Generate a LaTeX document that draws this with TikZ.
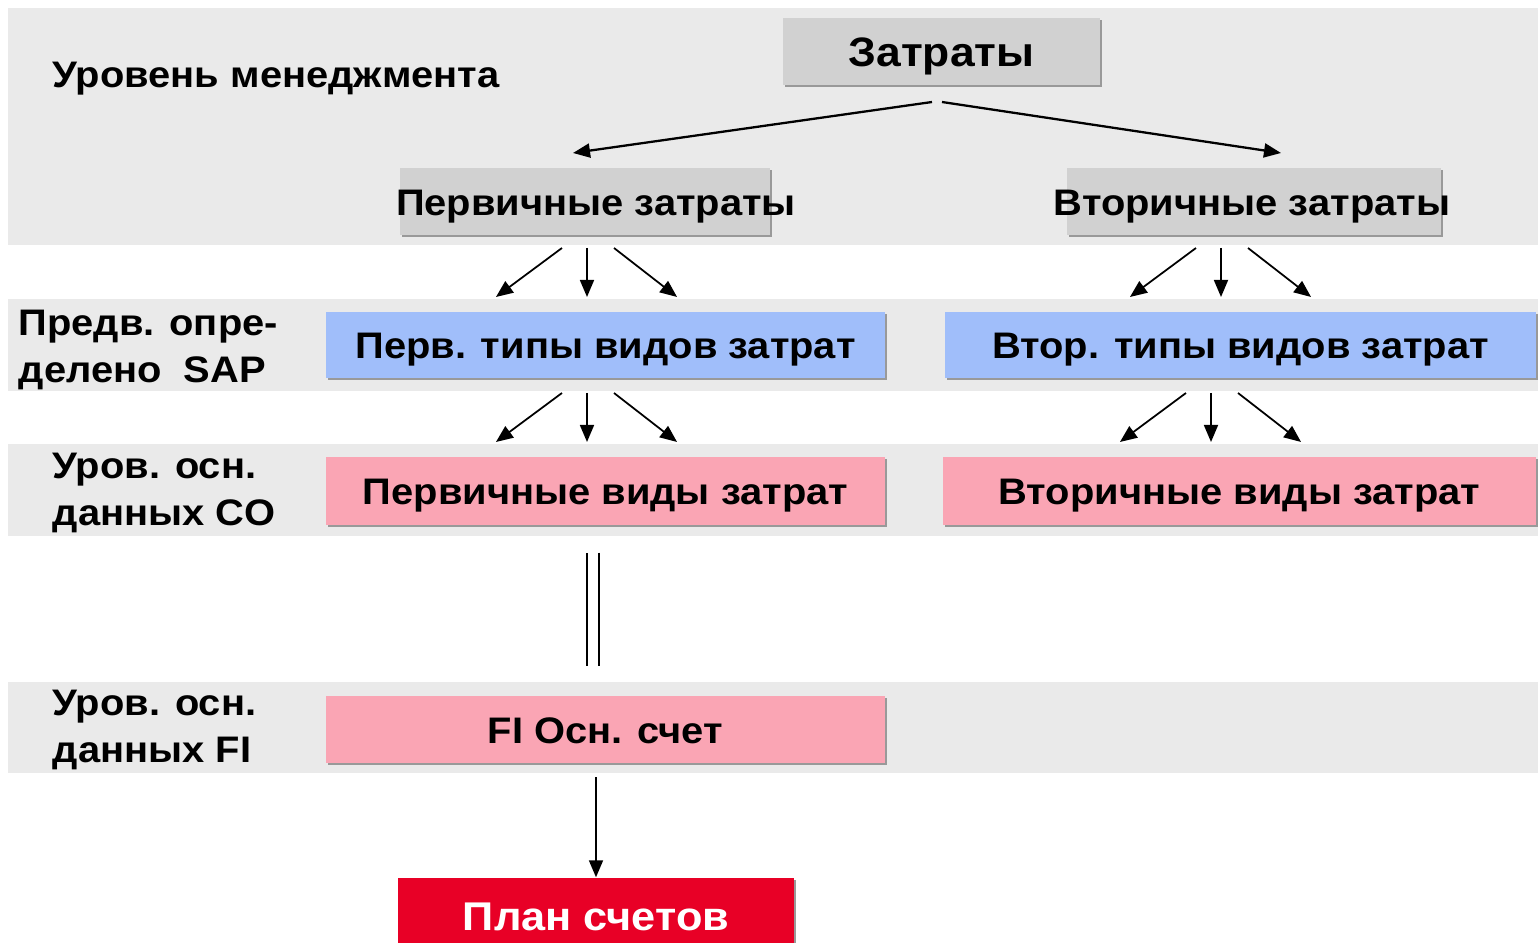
\documentclass[tikz,border=0pt]{standalone}
\usepackage{fontspec}
\setmainfont{Liberation Sans}[FakeStretch=1.08]
\usetikzlibrary{arrows.meta,shadows}
\definecolor{levelgray}{RGB}{234,234,234}
\definecolor{costgray}{RGB}{209,209,209}
\definecolor{costblue}{RGB}{160,190,250}
\definecolor{costpink}{RGB}{250,165,180}
\definecolor{costred}{RGB}{232,0,38}

\begin{document}
\begin{tikzpicture}[x=0.01cm, y=-0.01cm, >={Triangle[length=0.17cm,width=0.14cm]},
  every node/.style={font=\fontsize{10.5}{13.1}\selectfont\bfseries},
  costbox/.style={inner sep=0pt, text height=0.27cm, text depth=0pt,
    drop shadow={shadow xshift=0.02cm, shadow yshift=-0.02cm, fill=black!40, opacity=1}},
  levelname/.style={anchor=west, align=left, inner sep=0pt},
  arr/.style={->, line width=0.5pt}]
 \useasboundingbox (0,0) rectangle (1538,943);
 \fill[white] (0,0) rectangle (1538,943);
 % level bands
 \fill[levelgray] (8,8) rectangle (1538,245);
 \fill[levelgray] (8,299) rectangle (1538,391);
 \fill[levelgray] (8,444) rectangle (1538,536);
 \fill[levelgray] (8,682) rectangle (1538,773);
 % level names
 \node[levelname] (lvlman) at (52,79) {Уровень менеджмента};
 \node[levelname] (lvlsap) at (18,350) {Предв. опре-\\делено\ \ SAP};
 \node[levelname] (lvlco) at (52,493) {Уров. осн.\\данных CO};
 \node[levelname] (lvlfi) at (52,730) {Уров. осн.\\данных FI};
 % cost boxes
 \node[costbox, fill=costgray, minimum width=3.17cm, minimum height=0.67cm, text height=0.30cm,
   font=\fontsize{11.7}{14}\selectfont\bfseries] (zatr) at (941.5,51.5) {Затраты};
 \node[costbox, fill=costgray, minimum width=3.70cm, minimum height=0.67cm,
   label={[xshift=0.11cm, text height=0.27cm, text depth=0pt]center:Первичные затраты}] (prim) at (585,201.5) {};
 \node[costbox, fill=costgray, minimum width=3.74cm, minimum height=0.67cm,
   label={[xshift=-0.02cm, text height=0.27cm, text depth=0pt]center:Вторичные затраты}] (vtor) at (1254,201.5) {};
 \node[costbox, fill=costblue, minimum width=5.59cm, minimum height=0.66cm] (ptip) at (605.5,345) {Перв. типы видов затрат};
 \node[costbox, fill=costblue, minimum width=5.91cm, minimum height=0.66cm] (vtip) at (1240.5,345) {Втор. типы видов затрат};
 \node[costbox, fill=costpink, minimum width=5.59cm, minimum height=0.68cm] (pvid) at (605.5,491) {Первичные виды затрат};
 \node[costbox, fill=costpink, minimum width=5.93cm, minimum height=0.68cm] (vvid) at (1239.5,491) {Вторичные виды затрат};
 \node[costbox, fill=costpink, minimum width=5.59cm, minimum height=0.67cm] (fi) at (605.5,729.5) {FI Осн. счет};
 \node[costbox, fill=costred, text=white, minimum width=3.96cm, minimum height=0.76cm, text height=0.29cm,
   font=\fontsize{11.4}{14}\selectfont\bfseries] (plan) at (596,916) {План счетов};
 % arrows
 \coordinate (zsplit) at (937,102);
 \coordinate (primtip) at (573,153);
 \coordinate (vtortip) at (1281,153);
 \draw[arr, line width=0.65pt] ([xshift=-0.05cm]zsplit) -- (primtip);
 \draw[arr, line width=0.65pt] ([xshift=0.05cm]zsplit) -- (vtortip);
 \coordinate (pfan1a) at (587,248);
 \coordinate (pfan1b) at (587,297);
 \coordinate (vfan1a) at (1221,248);
 \coordinate (vfan1b) at (1221,297);
 \coordinate (pfan2a) at (587,393);
 \coordinate (pfan2b) at (587,442);
 \coordinate (vfan2a) at (1211,393);
 \coordinate (vfan2b) at (1211,442);
 \foreach \from/\to in {pfan1a/pfan1b, vfan1a/vfan1b, pfan2a/pfan2b, vfan2a/vfan2b}
  \foreach \a/\b in {-0.25/-0.91, 0/0, 0.27/0.9}
   \draw[arr] ([xshift=\a cm]\from) -- ([xshift=\b cm]\to);
 \draw[double, double distance=0.105cm, line width=0.45pt, shorten <=0.27cm, shorten >=0.29cm]
   ([xshift=-0.125cm]pvid.south) -- ([xshift=-0.125cm]fi.north);
 \draw[arr, shorten <=0.135cm] (fi.south -| plan.north) -- (plan.north);
\end{tikzpicture}
\end{document}
